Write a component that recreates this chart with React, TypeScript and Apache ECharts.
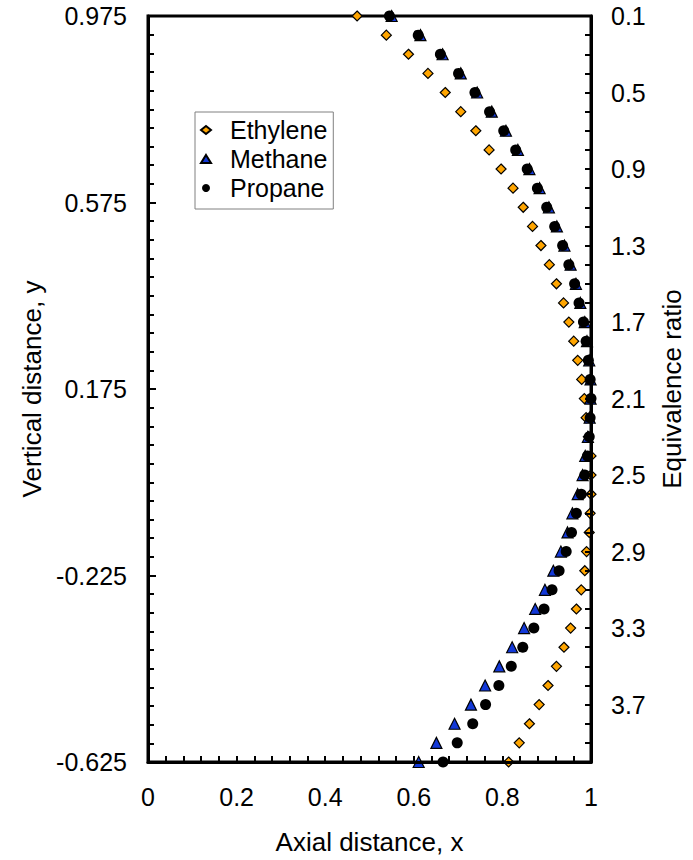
import React, { useEffect, useRef } from "react";
import * as echarts from "echarts";

// Equivalence ratio of each row (right axis, read top to bottom)
const phi = [
  0.1, 0.2, 0.3, 0.4, 0.5, 0.6, 0.7, 0.8, 0.9, 1.0,
  1.1, 1.2, 1.3, 1.4, 1.5, 1.6, 1.7, 1.8, 1.9, 2.0,
  2.1, 2.2, 2.3, 2.4, 2.5, 2.6, 2.7, 2.8, 2.9, 3.0,
  3.1, 3.2, 3.3, 3.4, 3.5, 3.6, 3.7, 3.8, 3.9, 4.0,
];

// Axial distance x for each row
const ethyleneX = [
  0.472, 0.538, 0.588, 0.632, 0.671, 0.706, 0.740, 0.770, 0.797, 0.824,
  0.847, 0.868, 0.887, 0.906, 0.922, 0.938, 0.950, 0.961, 0.970, 0.979,
  0.985, 0.989, 0.994, 1.0, 1.0, 1.0, 0.998, 0.996, 0.990, 0.986,
  0.978, 0.967, 0.954, 0.939, 0.922, 0.903, 0.883, 0.861, 0.838, 0.814,
];
const methaneX = [
  0.550, 0.615, 0.665, 0.706, 0.743, 0.776, 0.808, 0.835, 0.861, 0.884,
  0.905, 0.923, 0.940, 0.954, 0.966, 0.976, 0.986, 0.991, 0.996, 0.999,
  0.999, 0.997, 0.993, 0.987, 0.981, 0.970, 0.958, 0.947, 0.932, 0.915,
  0.896, 0.874, 0.849, 0.822, 0.793, 0.761, 0.729, 0.692, 0.651, 0.611,
];
const propaneX = [
  0.545, 0.610, 0.660, 0.701, 0.738, 0.771, 0.803, 0.830, 0.856, 0.879,
  0.900, 0.918, 0.936, 0.950, 0.963, 0.973, 0.983, 0.989, 0.994, 0.998,
  1.0, 0.998, 0.996, 0.992, 0.986, 0.978, 0.967, 0.956, 0.944, 0.928,
  0.912, 0.894, 0.871, 0.846, 0.820, 0.792, 0.762, 0.733, 0.698, 0.666,
];

// Left axis tick labels (vertical distance y), spaced 0.4 apart
const yTickLabels = ["-0.625", "-0.225", "0.175", "0.575", "0.975"];

const FONT = "'Liberation Sans', Arial, sans-serif";
const FS = 25;
const TFS = 26;

export default function App() {
  const ref = useRef<HTMLDivElement>(null);

  useEffect(() => {
    document.body.style.margin = "0";
    if (!ref.current) return;
    const chart = echarts.init(ref.current, undefined, { renderer: "svg" });

    const pairs = (xs: number[]) => xs.map((x, i) => [x, phi[i]]);

    const axisLine = { show: true, onZero: false, lineStyle: { color: "#000", width: 3 } };

    chart.setOption({
      animation: false,
      backgroundColor: "#fff",
      textStyle: { fontFamily: FONT },
      grid: {
        left: 148,
        right: 96,
        top: 16,
        bottom: 96,
        show: true,
        borderColor: "#000",
        borderWidth: 3,
      },
      legend: {
        orient: "vertical",
        left: 195,
        top: 112,
        padding: [5.5, 6, 8.5, 5],
        itemGap: 4,
        itemWidth: 10,
        itemHeight: 8,
        borderColor: "#808080",
        borderWidth: 1,
        backgroundColor: "#fff",
        textStyle: {
          fontFamily: FONT,
          fontSize: FS,
          lineHeight: 25,
          color: "#000",
          padding: [0, 0, 0, 14],
        },
        data: ["Ethylene", "Methane", "Propane"],
      },
      xAxis: {
        type: "value",
        min: 0,
        max: 1,
        interval: 0.2,
        z: 5,
        name: "Axial distance, x",
        nameLocation: "middle",
        nameGap: 67,
        nameTextStyle: { fontFamily: FONT, fontSize: TFS, color: "#000" },
        axisLine,
        axisTick: { show: true, inside: true, length: 6, lineStyle: { color: "#000", width: 2 } },
        minorTick: { show: true, splitNumber: 5, length: 6, lineStyle: { color: "#000", width: 2 } },
        axisLabel: {
          show: true,
          margin: 22,
          fontFamily: FONT,
          fontSize: FS,
          color: "#000",
          showMinLabel: true,
          showMaxLabel: true,
          formatter: (v: number) => String(Math.round(v * 10) / 10),
        },
        splitLine: { show: false },
      },
      yAxis: [
        {
          type: "value",
          position: "left",
          min: 0,
          max: 1.6,
          interval: 0.4,
          z: 5,
          name: "Vertical distance, y",
          nameLocation: "middle",
          nameRotate: 90,
          nameGap: 97,
          nameTextStyle: { fontFamily: FONT, fontSize: TFS, color: "#000" },
          axisLine,
          axisTick: { show: true, inside: true, length: 8, lineStyle: { color: "#000", width: 2 } },
          minorTick: { show: true, splitNumber: 10, length: 6, lineStyle: { color: "#000", width: 2 } },
          axisLabel: {
            show: true,
            margin: 21,
            fontFamily: FONT,
            fontSize: FS,
            color: "#000",
            showMinLabel: true,
            showMaxLabel: true,
            formatter: (v: number) => yTickLabels[Math.round(v / 0.4)] ?? "",
          },
          splitLine: { show: false },
        },
        {
          type: "value",
          position: "right",
          inverse: true,
          min: 0.1,
          max: 4.0,
          interval: 0.1,
          z: 5,
          name: "Equivalence ratio",
          nameLocation: "middle",
          nameRotate: 90,
          nameGap: 68,
          nameTextStyle: { fontFamily: FONT, fontSize: TFS, color: "#000" },
          axisLine,
          axisTick: { show: true, inside: true, length: 6, lineStyle: { color: "#000", width: 2 } },
          axisLabel: {
            show: true,
            interval: 0,
            margin: 20,
            fontFamily: FONT,
            fontSize: FS,
            color: "#000",
            showMinLabel: true,
            showMaxLabel: true,
            formatter: (v: number) => {
              const k = Math.round(v * 10);
              return k % 4 === 1 ? (k / 10).toFixed(1) : "";
            },
          },
          splitLine: { show: false },
        },
      ],
      series: [
        {
          name: "Ethylene",
          type: "scatter",
          yAxisIndex: 1,
          symbol: "diamond",
          symbolSize: 10,
          itemStyle: { color: "#FFA500", borderColor: "#000", borderWidth: 1.2, opacity: 1 },
          data: pairs(ethyleneX),
        },
        {
          name: "Methane",
          type: "scatter",
          yAxisIndex: 1,
          symbol: "triangle",
          symbolSize: 11,
          itemStyle: { color: "#1238D8", borderColor: "#000", borderWidth: 1.2, opacity: 1 },
          data: pairs(methaneX),
        },
        {
          name: "Propane",
          type: "scatter",
          yAxisIndex: 1,
          symbol: "circle",
          symbolSize: 11,
          itemStyle: { color: "#000", borderColor: "#000", borderWidth: 0, opacity: 1 },
          data: pairs(propaneX),
        },
      ],
    });

    return () => chart.dispose();
  }, []);

  return <div ref={ref} style={{ width: 693, height: 860 }} />;
}
